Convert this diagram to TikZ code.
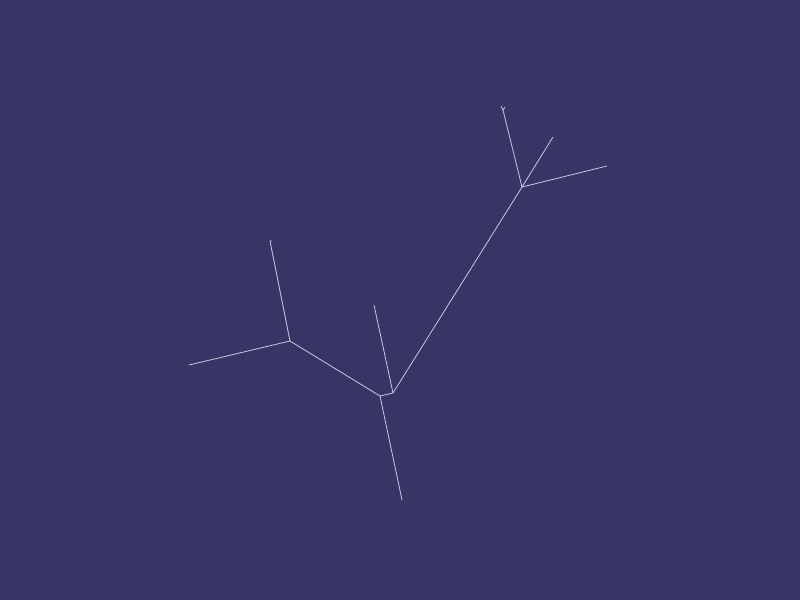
\documentclass[tikz,border=0pt]{standalone}
\definecolor{bg}{HTML}{363566}
\definecolor{branch}{HTML}{C8C8DE}
\begin{document}
\begin{tikzpicture}[x=1pt,y=-1pt,
  edge/.style={draw=branch,line width=0.8pt}]
\fill[bg] (0,0) rectangle (800,600);
\useasboundingbox (0,0) rectangle (800,600);
% junctions
\coordinate (A) at (290,341);
\coordinate (B) at (380,396);
\coordinate (C) at (393,393);
\coordinate (D) at (522,187);
\coordinate (E) at (503,110);
% tips
\coordinate (a1) at (270,241);
\coordinate (a1t) at (272,241);
\coordinate (a2) at (189,365);
\coordinate (b1) at (402,500);
\coordinate (c1) at (374,305);
\coordinate (d1) at (553,137);
\coordinate (d2) at (607,166);
\coordinate (e1) at (501,106);
\coordinate (e2) at (505,107);
\draw[edge] (A) -- (a1) -- (a1t);
\draw[edge] (A) -- (a2);
\draw[edge] (A) -- (B);
\draw[edge] (B) -- (b1);
\draw[edge] (B) -- (C);
\draw[edge] (C) -- (c1);
\draw[edge] (C) -- (D);
\draw[edge] (D) -- (d1);
\draw[edge] (D) -- (d2);
\draw[edge] (D) -- (E);
\draw[edge] (E) -- (e1);
\draw[edge] (E) -- (e2);
\end{tikzpicture}
\end{document}
